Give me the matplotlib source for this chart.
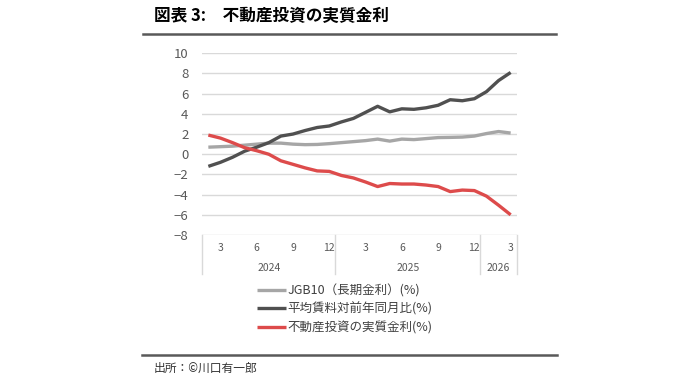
import matplotlib
matplotlib.use("Agg")
import matplotlib.pyplot as plt
from matplotlib.lines import Line2D
import matplotlib.transforms as mtrans

plt.rcParams['font.family'] = ['Noto Sans CJK JP', 'DejaVu Sans']

# ---- data (Feb 2024 .. Mar 2026, monthly) ----
years = [2024]*11 + [2025]*12 + [2026]*3
months = list(range(2, 13)) + list(range(1, 13)) + [1, 2, 3]

jgb10 = [0.7, 0.75, 0.8, 0.9, 1.0, 1.1, 1.1, 1.0, 0.95, 0.97, 1.05, 1.15, 1.25,
         1.35, 1.5, 1.3, 1.5, 1.45, 1.55, 1.65, 1.67, 1.7, 1.8, 2.05, 2.25, 2.1]
rent_yoy = [-1.2, -0.8, -0.3, 0.3, 0.7, 1.15, 1.8, 2.0, 2.35, 2.65, 2.8, 3.2, 3.55,
            4.15, 4.75, 4.2, 4.5, 4.45, 4.6, 4.85, 5.4, 5.3, 5.5, 6.2, 7.3, 8.1]
real_rate = [1.9, 1.6, 1.15, 0.65, 0.35, 0.0, -0.65, -1.0, -1.35, -1.65, -1.7, -2.1, -2.35,
             -2.75, -3.2, -2.9, -2.95, -2.95, -3.05, -3.2, -3.7, -3.55, -3.6, -4.15, -5.05, -6.0]

series_labels = ["JGB10（長期金利）(%)", "平均賃料対前年同月比(%)", "不動産投資の実質金利(%)"]
series_colors = ["#a6a6a6", "#505050", "#dd4b4b"]
yticks = list(range(-8, 11, 2))

title = "図表 3:　不動産投資の実質金利"
source = "出所：©川口有一郎"

W, H = 700, 388
fig = plt.figure(figsize=(W/100, H/100), dpi=100)
ax = fig.add_axes([202.3/W, 1-235/H, (516.7-202.3)/W, (235-53.3)/H])

x = list(range(len(months)))
for vals, lab, col in zip([jgb10, rent_yoy, real_rate], series_labels, series_colors):
    ax.plot(x, vals, color=col, lw=2.4, label=lab, solid_capstyle='butt')

ax.set_xlim(-0.5, len(months)-0.5)
ax.set_ylim(-8, 10)
ax.set_yticks(yticks)
ax.set_yticklabels([str(v).replace('-', '\u2212') for v in yticks])
ax.grid(axis='y', color='#d9d9d9', lw=1)
ax.set_axisbelow(True)
for s in ax.spines.values():
    s.set_visible(False)
ax.tick_params(axis='y', length=0, pad=10, labelsize=9.5, labelcolor='#595959')

tick_idx = [i for i, m in enumerate(months) if m % 3 == 0]
ax.set_xticks(tick_idx)
ax.set_xticklabels([str(months[i]) for i in tick_idx])
ax.tick_params(axis='x', length=0, pad=6, labelsize=7.5, labelcolor='#595959')

# year groups and separators
trans = mtrans.blended_transform_factory(ax.transData, ax.transAxes)
groups = []
for i, y in enumerate(years):
    if not groups or groups[-1][0] != y:
        groups.append([y, i, i])
    else:
        groups[-1][2] = i
bounds = [-0.5] + [g[2] + 0.5 for g in groups]
for b in bounds:
    ax.plot([b, b], [0, -39/181.7], transform=trans, color='#d9d9d9', lw=1, clip_on=False)
for y, a, b in groups:
    ax.text((a + b) / 2, -33/181.7, str(y), transform=trans, ha='center', va='center',
            fontsize=7.5, color='#595959')

# legend
ax.legend(loc='upper left', bbox_to_anchor=(257/W, 1-284/H), bbox_transform=fig.transFigure,
          frameon=False, fontsize=9, handlelength=2.3, handletextpad=0.15,
          labelspacing=0.42, borderpad=0, borderaxespad=0, labelcolor='#404040')

# title, rules, source
fig.text(154/W, 1-16/H, title, fontsize=12, fontweight='bold', color='black',
         ha='left', va='center')
fig.add_artist(Line2D([142.5/W, 556/W], [1-33.7/H, 1-33.7/H], color='#595959', lw=1.8))
fig.add_artist(Line2D([142/W, 557/W], [1-355/H, 1-355/H], color='#595959', lw=1.8))
fig.text(154/W, 1-368/H, source, fontsize=8.5, color='#333333', ha='left', va='center')

fig.savefig("out.png", dpi=100)
